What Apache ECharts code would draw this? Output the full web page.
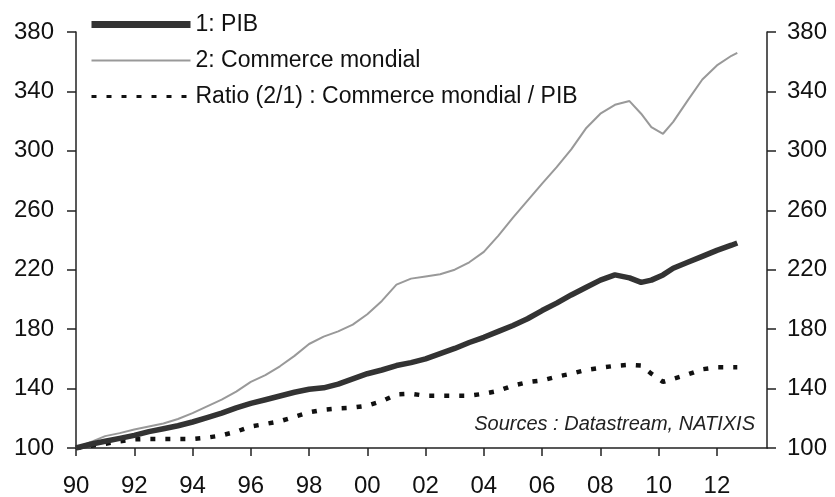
<!DOCTYPE html>
<html>
<head>
<meta charset="utf-8">
<script src="https://cdn.jsdelivr.net/npm/echarts@6/dist/echarts.min.js"></script>
<style>
html,body{margin:0;padding:0;background:#fff;}
#chart{width:835px;height:497px;}
</style>
</head>
<body>
<div id="chart"></div>
<script>
// Years (decimal) of each observation
const years = [
  1990, 1990.5, 1991, 1991.5, 1992, 1992.5, 1993, 1993.5, 1994, 1994.5,
  1995, 1995.5, 1996, 1996.5, 1997, 1997.5, 1998, 1998.5, 1999, 1999.5,
  2000, 2000.5, 2001, 2001.5, 2002, 2002.5, 2003, 2003.5, 2004, 2004.5,
  2005, 2005.5, 2006, 2006.5, 2007, 2007.5, 2008, 2008.5, 2009, 2009.4,
  2009.75, 2010.15, 2010.5, 2011, 2011.5, 2012, 2012.5, 2012.7
];
// 1: PIB
const pib = [
  100, 102.5, 104.5, 106.5, 108.5, 111, 113, 115, 117.5, 120.5,
  123.5, 127, 130, 132.5, 135, 137.5, 139.5, 140.5, 143, 146.5,
  150, 152.5, 155.5, 157.5, 160, 163.5, 167, 171, 174.5, 178.5,
  182.5, 187, 192.5, 197.5, 203, 208, 213, 216.5, 214.5, 211.5,
  213, 216.5, 221, 225, 229, 233, 236.5, 238
];
// 2: Commerce mondial
const commerce = [
  100, 104, 108, 110, 112.5, 114.5, 116.5, 119.5, 123.5, 128,
  132.5, 138, 144.5, 149, 155, 162, 170, 175, 178.5, 183,
  190, 199, 210, 214, 215.5, 217, 220, 225, 232, 243,
  255, 266.5, 278, 289, 301, 315, 325, 331, 333.5, 325,
  316, 311.5, 319.5, 334, 348, 357.5, 364, 366
];
// Ratio (2/1)
const ratio = [
  100, 101.5, 102.8, 104.5, 105.8, 106.1, 106.1, 106.1, 106.1, 107,
  108.5, 111, 114.5, 116.2, 118, 121, 124, 125.8, 126.7, 127.2,
  128.5, 131.5, 136, 136.5, 135.2, 135.2, 135.2, 135.2, 136.5, 138.5,
  142, 144.3, 145.5, 148, 150, 152.5, 154, 155.3, 156, 155.5,
  150, 144.5, 146.5, 149.5, 153, 154.3, 154.3, 154.3
];
const seriesNames = ['1: PIB', '2: Commerce mondial', 'Ratio (2/1) : Commerce mondial / PIB'];
const xTickYears = [1990, 1992, 1994, 1996, 1998, 2000, 2002, 2004, 2006, 2008, 2010, 2012];
const yTicks = [100, 140, 180, 220, 260, 300, 340, 380];
const sourceText = 'Sources : Datastream, NATIXIS';

const pair = arr => years.map((y, i) => [y, arr[i]]);
const FONT = 'Liberation Sans, Arial, sans-serif';

const chart = echarts.init(document.getElementById('chart'), null, {renderer: 'canvas'});
const yAxisCommon = {
  type: 'value', min: yTicks[0], max: yTicks[yTicks.length - 1], interval: 40,
  splitLine: {show: false},
  axisLine: {show: true, lineStyle: {color: '#222', width: 1.5}},
  axisTick: {show: true, inside: false, length: 9, lineStyle: {color: '#222', width: 1.5}},
  axisLabel: {color: '#111', fontSize: 24, fontFamily: FONT}
};
chart.setOption({
  backgroundColor: '#fff',
  animation: false,
  grid: {left: 76, right: 68, top: 32, bottom: 49, outerBoundsMode: 'none', containLabel: false},
  legend: {
    orient: 'vertical', left: 88, top: 13, padding: 0,
    itemWidth: 99, itemHeight: 14, itemGap: 13,
    itemStyle: {opacity: 0},
    textStyle: {fontSize: 23, color: '#111', fontFamily: FONT},
    data: [
      {name: seriesNames[0], lineStyle: {width: 7}},
      {name: seriesNames[1], lineStyle: {width: 2}},
      {name: seriesNames[2], lineStyle: {width: 3}}
    ]
  },
  xAxis: {
    type: 'value', min: 1990, max: 2013.72, interval: 2,
    splitLine: {show: false},
    axisLine: {show: true, onZero: false, lineStyle: {color: '#222', width: 1.5}},
    axisTick: {show: true, inside: false, length: 8, customValues: xTickYears, lineStyle: {color: '#222', width: 1.5}},
    axisLabel: {
      customValues: xTickYears, margin: 26, color: '#111', fontSize: 24, fontFamily: FONT,
      formatter: v => String(Math.round(v) % 100).padStart(2, '0')
    }
  },
  yAxis: [
    Object.assign({position: 'left'}, yAxisCommon, {axisLabel: Object.assign({}, yAxisCommon.axisLabel, {margin: 22})}),
    Object.assign({position: 'right'}, yAxisCommon, {axisLabel: Object.assign({}, yAxisCommon.axisLabel, {margin: 20})})
  ],
  series: [
    {
      name: seriesNames[2], type: 'line', data: pair(ratio), symbol: 'none', z: 3,
      lineStyle: {color: '#111', width: 4.5, type: [5, 10]}, itemStyle: {color: '#111'}
    },
    {
      name: seriesNames[1], type: 'line', data: pair(commerce), symbol: 'none', z: 4,
      lineStyle: {color: '#999', width: 2}, itemStyle: {color: '#999'}
    },
    {
      name: seriesNames[0], type: 'line', data: pair(pib), symbol: 'none', z: 5,
      lineStyle: {color: '#333', width: 5.5}, itemStyle: {color: '#333'}
    }
  ],
  graphic: [{
    type: 'text', right: 80, top: 414,
    style: {text: sourceText, fontSize: 20, fontStyle: 'italic', fontFamily: FONT, fill: '#222'}
  }]
});
</script>
</body>
</html>
